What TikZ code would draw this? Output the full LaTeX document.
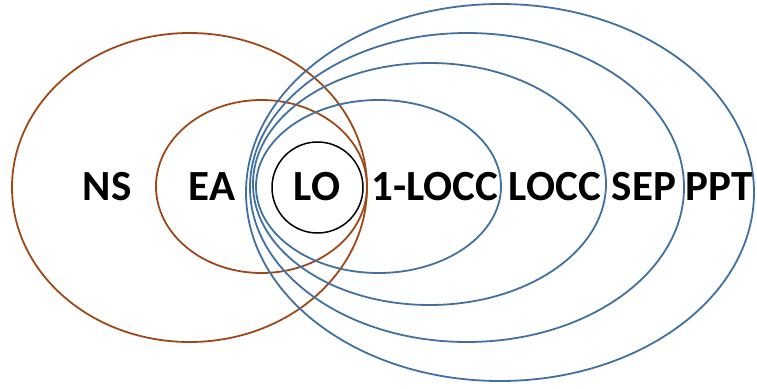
\documentclass[tikz,border=0pt]{standalone}
\usepackage{fontspec}
\setmainfont{Carlito}
\definecolor{setbrown}{RGB}{158,72,26}
\definecolor{setblue}{RGB}{65,113,160}
\tikzset{
  brownset/.style={draw=setbrown, line width=1.8pt},
  blueset/.style={draw=setblue, line width=1.8pt},
  blackset/.style={draw=black, line width=1.5pt},
  setlabel/.style={font=\fontsize{43}{43}\selectfont\bfseries, anchor=base, inner sep=0pt}
}
\begin{document}
\begin{tikzpicture}[x=1pt,y=-1pt]
\useasboundingbox (0,0) rectangle (757,388);
% brown sets
\draw[brownset] (189.5,187.5) ellipse [x radius=177.5pt, y radius=154.5pt];
\draw[brownset] (261.5,186.5) ellipse [x radius=105.5pt, y radius=86.5pt];
% blue sets
\draw[blueset] (500,192.5) ellipse [x radius=254pt, y radius=188.5pt];
\draw[blueset] (467,187.5) ellipse [x radius=217pt, y radius=154.5pt];
\draw[blueset] (429.5,184) ellipse [x radius=176.5pt, y radius=121pt];
\draw[blueset] (378.5,186.5) ellipse [x radius=122.5pt, y radius=86.5pt];
% LO circle
\draw[blackset] (317.5,187.5) circle [radius=45.5pt];
% labels
\node[setlabel] (ns) at (107,200.5) {NS};
\node[setlabel] (ea) at (212,200.5) {EA};
\node[setlabel] (lo) at (317,200.5) {LO};
\node[setlabel] (olocc) at (435,200.5) {1-LOCC};
\node[setlabel] (locc) at (555,200.5) {LOCC};
\node[setlabel] (sep) at (644,200.5) {SEP};
\node[setlabel] (ppt) at (719,200.5) {PPT};
\end{tikzpicture}
\end{document}
